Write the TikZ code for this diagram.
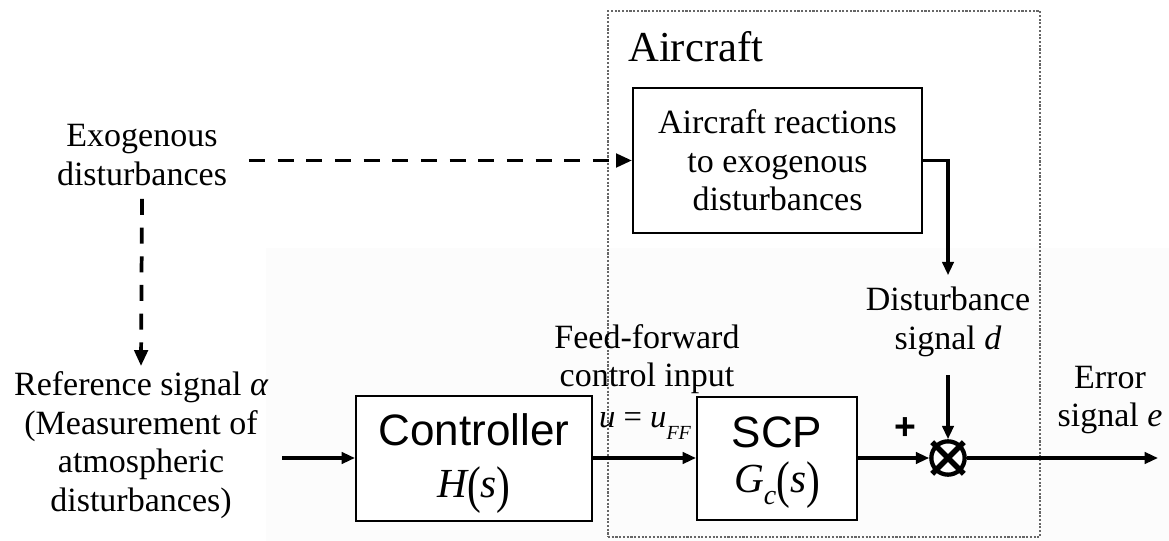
\documentclass[tikz,border=0pt]{standalone}
\usepackage{fontspec}
\setmainfont{Liberation Serif}
\setsansfont{Liberation Sans}
\usetikzlibrary{arrows.meta,calc}

\begin{document}
\begin{tikzpicture}[x=0.75pt,y=-0.75pt,
  lbl/.style={align=center,font=\fontsize{25.5}{29}\selectfont,inner sep=0pt,outer sep=0pt},
  blk/.style={draw,line width=1.5pt,fill=white,inner sep=0pt},
  sig/.style={line width=2.4pt,-{Triangle[length=10pt,width=8.5pt]}},
  dsig/.style={line width=2.8pt,dash pattern=on 12pt off 9.5pt,-{Triangle[length=12pt,width=10pt]}},
  frame/.style={draw=black!60,line width=0.8pt,dash pattern=on 1.6pt off 1.2pt,inner sep=0pt},
  blocktitle/.style={font=\sffamily\fontsize{33}{36}\selectfont,inner sep=0pt},
  tf/.style={font=\fontsize{31}{34}\selectfont,inner sep=0pt},
]
\useasboundingbox (0,0) rectangle (1169,541);
% faint backdrop behind the lower loop
\fill[black!1] (266,248) rectangle (1169,541);

% aircraft boundary
\node[frame,minimum width=324pt,minimum height=394.5pt] (aircraft) at (824,274) {};
\node[anchor=base west,inner sep=0pt,font=\fontsize{32}{34}\selectfont] (actitle) at (628,62) {Aircraft};

% blocks
\node[blk,minimum width=216.75pt,minimum height=108.75pt,align=center,
      font=\fontsize{25.5}{29}\selectfont] (react) at (777.5,160.5)
      {Aircraft reactions\\to exogenous\\disturbances};
\node[blk,minimum width=177pt,minimum height=93.75pt] (ctrl) at (474,458) {};
\node[blocktitle] (ctrlname) at (474,430) {Controller};
\node[tf] (ctrltf) at (474,490) {{\itshape H}\raisebox{-0.12em}{\scalebox{1}[1.25]{(}}{\itshape s}\raisebox{-0.12em}{\scalebox{1}[1.25]{)}}};
\node[blk,minimum width=120pt,minimum height=92.25pt] (scp) at (777,458) {};
\node[blocktitle] (scpname) at (777,432) {SCP};
\node[tf] (scptf) at (777,485) {{\itshape G}\raisebox{-0.3em}{\fontsize{21}{21}\selectfont\itshape c}\raisebox{-0.12em}{\scalebox{1}[1.25]{(}}{\itshape s}\raisebox{-0.12em}{\scalebox{1}[1.25]{)}}};

% summing junction
\node[circle,draw,line width=3.2pt,minimum size=25pt,inner sep=0pt,fill=white] (sum) at (948,458) {};
\draw[line width=4.2pt] ([shift={(-2.5,-2.5)}]sum.north west) -- ([shift={(2.5,2.5)}]sum.south east)
                        ([shift={(2.5,-2.5)}]sum.north east) -- ([shift={(-2.5,2.5)}]sum.south west);
\node[inner sep=0pt,font=\sffamily\bfseries\fontsize{28}{28}\selectfont] (plus) at (905,429) {+};

% labels
\node[lbl] (exo) at (142,155) {Exogenous\\disturbances};
\node[lbl] (ref) at (141,445) {Reference signal {\itshape α}\\(Measurement of\\atmospheric\\disturbances)};
\node[lbl] (ff) at (647,359) {Feed-forward\\control input};
\node[inner sep=0pt,font=\fontsize{24.5}{26}\selectfont] (uff) at (645,426)
  {{\itshape u} = {\itshape u}\raisebox{-0.35em}{\fontsize{15}{15}\selectfont\itshape FF}};
\node[lbl] (dist) at (948,322) {Disturbance\\signal {\itshape d}};
\node[lbl] (err) at (1110,400) {Error\\signal {\itshape e}};

% signal paths
\coordinate (in) at (282,458);
\coordinate (out) at (1158,458);
\draw[sig] (in) -- (ctrl.west);
\draw[sig] (ctrl.east) -- (scp.west);
\draw[sig] (scp.east) -- (sum.west);
\draw[sig] (sum.east) -- (out);
\draw[sig] (react.east) -| ([yshift=9pt]dist.north);
\draw[sig] ([yshift=-14pt]dist.south) -- (sum.north);

% disturbance paths
\draw[dsig] ($(exo.east |- react.west)+(22,0)$) -- (react.west);
\draw[dsig] ([yshift=-10pt]exo.south) -- ([yshift=4pt]ref.north);
\end{tikzpicture}
\end{document}
